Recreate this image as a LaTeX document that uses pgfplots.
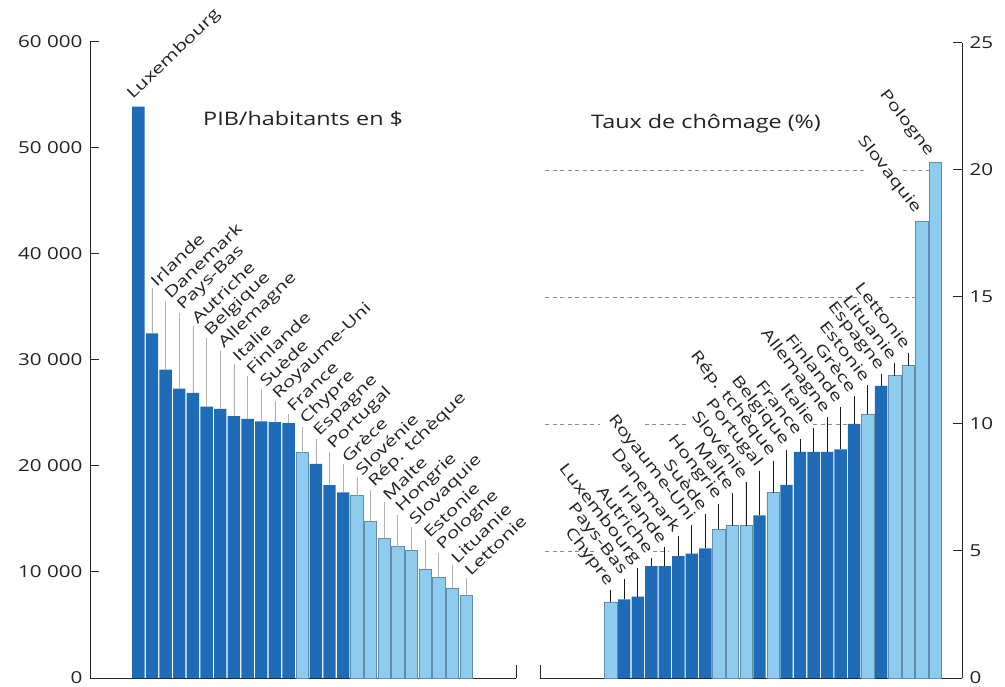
\documentclass[border=0pt]{standalone}
\usepackage{pgfplots}
\pgfplotsset{compat=1.18}
\usepackage{pgfplotstable}
\usepackage{fontspec}
\setmainfont{Open Sans}[FakeStretch=1.25]
\newfontfamily\narrowlbl{Open Sans}[FakeStretch=1.36]
\definecolor{dblue}{HTML}{1E6BB8}
\definecolor{lblue}{HTML}{8DCBEF}
\definecolor{txt}{HTML}{222222}
\newcommand\lbl{\fontsize{16.5bp}{18bp}\selectfont}
\newcommand\rlbl{\narrowlbl\fontsize{15.2bp}{17bp}\selectfont}
\newcommand\ttl{\fontsize{18.7bp}{21bp}\selectfont}
% ---- PIB par habitant (x = rang, v = valeur, e = longueur du trait de renvoi)
\pgfplotstableread{
x v e
0 53900 0
1 32500 4292
2 29100 6504
3 27300 7115
4 26900 6326
5 25600 6438
6 25400 5449
7 24700 4960
8 24450 4022
9 24200 3083
10 24150 1944
11 24050 856
13 20200 2328
14 18200 3140
15 17500 2651
}\pibdark
\pgfplotstableread{
x v e
12 21250 2467
16 17200 1762
17 14800 2974
18 13200 3385
19 12400 2996
20 12050 2158
21 10300 2719
22 9500 2330
23 8500 2142
24 7800 1653
}\piblight
\pgfplotstableread[col sep=comma]{
x,y,name
-0.68,54340,Luxembourg
1,36792,Irlande
2,35604,Danemark
3,34415,Pays-Bas
4,33226,Autriche
5,32038,Belgique
6,30849,Allemagne
7,29660,Italie
8,28472,Finlande
9,27283,Suède
10,26094,Royaume-Uni
11,24906,France
12,23717,Chypre
13,22528,Espagne
14,21340,Portugal
15,20151,Grèce
16,18962,Slovénie
17,17774,Rép. tchèque
18,16585,Malte
19,15396,Hongrie
20,14208,Slovaquie
21,13019,Estonie
22,11830,Pologne
23,10642,Lituanie
24,9453,Lettonie
}\piblab
% ---- Taux de chomage
\pgfplotstableread{
x v e
1 3.1 0.789
2 3.2 1.114
3 4.4 0.339
4 4.4 0.764
5 4.8 0.789
6 4.9 1.113
7 5.1 1.338
11 6.4 1.737
13 7.6 1.387
14 8.9 0.512
15 8.9 0.937
16 8.9 1.361
17 9.0 1.686
18 10.0 1.111
20 11.5 0.461
}\chodark
\pgfplotstableread{
x v e
0 3.0 0.465
8 5.85 1.013
9 6.0 1.288
10 6.0 1.713
12 7.3 1.262
19 10.4 1.136
21 11.9 0.485
22 12.3 0.51
23 18.0 0
24 20.3 0
}\cholight
\pgfplotstableread[col sep=comma]{
x,y,name
0,3.465,Chypre
1,3.889,Pays-Bas
2,4.314,Luxembourg
3,4.739,Autriche
4,5.164,Irlande
5,5.589,Danemark
6,6.013,Royaume-Uni
7,6.438,Suède
8,6.863,Hongrie
9,7.288,Malte
10,7.713,Slovénie
11,8.137,Portugal
12,8.562,Rép. tchèque
13,8.987,Belgique
14,9.412,France
15,9.837,Italie
16,10.261,Allemagne
17,10.686,Finlande
18,11.111,Grèce
19,11.536,Estonie
20,11.961,Espagne
21,12.385,Lituanie
22,12.810,Lettonie
22.76,18.15,Slovaquie
23.72,20.39,Pologne
}\cholab
\begin{document}
\begin{tikzpicture}
\useasboundingbox (0,0) rectangle (1005bp,687bp);
\pgfplotsset{
  common/.style={
    scale only axis, clip=false,
    axis x line*=bottom,
    axis line style={-, line width=1bp, black!85},
    x axis line style={-}, y axis line style={-},
    every outer x axis line/.append style={-},
    every outer y axis line/.append style={-},
    xtick=\empty,
    scaled y ticks=false,
    tick align=inside, major tick length=9bp,
    ytick style={line width=1bp, black!85},
  },
  darkbar/.style={ybar, bar width=12.4bp, bar shift=0pt, fill=dblue, draw=none},
  lightbar/.style={ybar, bar width=12.4bp, bar shift=0pt, fill=lblue, draw=black!30!lblue, line width=0.5bp},
  gridl/.style={forget plot, black!45, line width=0.7bp, dash pattern=on 4bp off 3.5bp},
  lab/.style={only marks, mark=*, mark size=0pt, mark options={draw=none, fill=none},
    nodes near coords, point meta=explicit symbolic},
}
% ---------------- Left: PIB / habitant
\begin{axis}[common,
  at={(90bp,9bp)}, anchor=south west,
  width=426bp, height=636bp,
  xmin=-3.536, xmax=27.65, ymin=0, ymax=60000,
  axis y line*=left,
  ytick={0,10000,20000,30000,40000,50000,60000},
  yticklabels={0,10 000,20 000,30 000,40 000,50 000,60 000},
  yticklabel style={font=\lbl, text=txt, xshift=-4bp},
]
\addplot[darkbar,
  error bars/.cd, y dir=plus, y explicit, error mark=none,
  error bar style={black!30, line width=0.7bp}]
  table[x=x, y=v, y error=e]{\pibdark};
\addplot[lightbar,
  error bars/.cd, y dir=plus, y explicit, error mark=none,
  error bar style={black!30, line width=0.7bp}]
  table[x=x, y=v, y error=e]{\piblight};
\addplot[lab,
  nodes near coords style={font=\rlbl, text=txt, inner sep=1.2bp, yshift=4bp, rotate=44, anchor=west}]
  table[x=x, y=y, meta=name]{\piblab};
\draw[line width=1bp, black!85] (rel axis cs:1,0) -- ++(0pt,13bp);
\end{axis}
% ---------------- Right: chomage
\begin{axis}[common,
  at={(540bp,9bp)}, anchor=south west,
  width=422bp, height=635bp,
  xmin=-5.234, xmax=25.98, ymin=0, ymax=25,
  axis y line*=right,
  ytick={0,5,10,15,20,25},
  yticklabel style={font=\lbl, text=txt, xshift=4bp},
  /pgf/number format/assume math mode=true,
]
\addplot[gridl] coordinates {(-4.864,20) (18.95,20)};
\addplot[gridl] coordinates {(21.62,20) (23.6,20)};
\addplot[gridl] coordinates {(-4.864,15) (18.29,15)};
\addplot[gridl] coordinates {(20.65,15) (22.6,15)};
\addplot[gridl] coordinates {(-4.864,10) (-0.8,10)};
\addplot[gridl] coordinates {(2.53,10) (5.64,10)};
\addplot[gridl] coordinates {(14.96,10) (17.6,10)};
\addplot[gridl] coordinates {(-4.864,5) (-1.02,5)};
\addplot[gridl] coordinates {(3.12,5) (4.24,5)};
\addplot[darkbar,
  error bars/.cd, y dir=plus, y explicit, error mark=none,
  error bar style={black!90, line width=0.9bp}]
  table[x=x, y=v, y error=e]{\chodark};
\addplot[lightbar,
  error bars/.cd, y dir=plus, y explicit, error mark=none,
  error bar style={black!90, line width=0.9bp}]
  table[x=x, y=v, y error=e]{\cholight};
\addplot[lab,
  nodes near coords style={font=\rlbl, text=txt, inner sep=1.2bp, yshift=5bp, rotate=-52, anchor=east}]
  table[x=x, y=y, meta=name]{\cholab};
\draw[line width=1bp, black!85] (rel axis cs:0,0) -- ++(0pt,13bp);
\end{axis}
\node[anchor=base west, font=\ttl, text=txt, inner sep=0pt] at (203bp,561bp) {PIB/habitants en \$};
\node[anchor=base west, font=\ttl, text=txt, inner sep=0pt] at (591bp,558bp) {Taux de chômage (\%)};
\end{tikzpicture}
\end{document}
